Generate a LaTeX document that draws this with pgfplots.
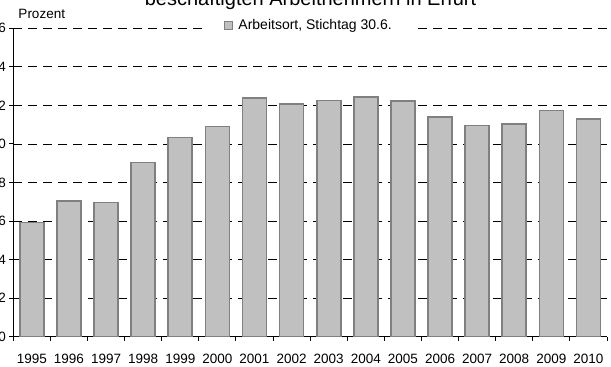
\documentclass[border=0pt]{standalone}
\usepackage{fontspec}
\setmainfont{Liberation Sans}
\usepackage{pgfplots}
\pgfplotsset{compat=1.18}
\definecolor{barfill}{HTML}{C0C0C0}
\definecolor{barline}{HTML}{808080}
\newcommand\chartfont{\fontsize{13.5bp}{15bp}\selectfont}
\newcommand\legendfont{\fontsize{14bp}{16bp}\selectfont}
\begin{document}
\begin{tikzpicture}
\begin{axis}[
  at={(13.3bp,30.3bp)}, anchor=south west,
  scale only axis, width=593.7bp, height=308.4bp,
  xmin=-0.5, xmax=15.5, ymin=0, ymax=16,
  axis lines*=left,
  xtick={-0.5,0.5,...,15.5},
  x tick label as interval,
  xticklabels={1995,1996,1997,1998,1999,2000,2001,2002,2003,2004,2005,2006,2007,2008,2009,2010},
  x tick label style={yshift=-10bp},
  ytick={0,2,...,16},
  tick align=outside,
  major tick length=4bp,
  ymajorgrids,
  grid style={dash pattern=on 9bp off 6bp, black, line width=0.8bp},
  axis line style={black, line width=0.9bp},
  tick style={black, line width=0.9bp},
  ticklabel style={font=\chartfont},
  /pgf/number format/assume math mode=true,
  legend style={at={(0.498,1.009)}, anchor=center, draw=none, fill=white,
    font=\legendfont, inner xsep=19bp, inner ysep=1bp},
  legend image code/.code={%
    \draw[fill=barfill, draw=barline, line width=1bp] (0bp,-3.7bp) rectangle (7.4bp,3.7bp);
    \path (11bp,0bp);},
]
\addplot[ybar, bar width=24bp, fill=barfill, draw=barline, line width=1.6bp]
  coordinates {
    (0,5.92) (1,7.04) (2,6.97) (3,9.03) (4,10.33) (5,10.90)
    (6,12.37) (7,12.06) (8,12.26) (9,12.44) (10,12.24) (11,11.41)
    (12,10.95) (13,11.02) (14,11.73) (15,11.28)
  };
\addlegendentry{Arbeitsort, Stichtag 30.6.}
\end{axis}
\node[anchor=base west, font=\chartfont, inner sep=0pt] at (18.3bp,348bp) {Prozent};
\node[anchor=base, font=\fontsize{20bp}{24bp}\selectfont, inner sep=0pt] at (310.5bp,361bp)
  {beschäftigten Arbeitnehmern in Erfurt};
\pgfresetboundingbox
\path[use as bounding box] (0bp,0bp) rectangle (611bp,367bp);
\end{tikzpicture}
\end{document}
